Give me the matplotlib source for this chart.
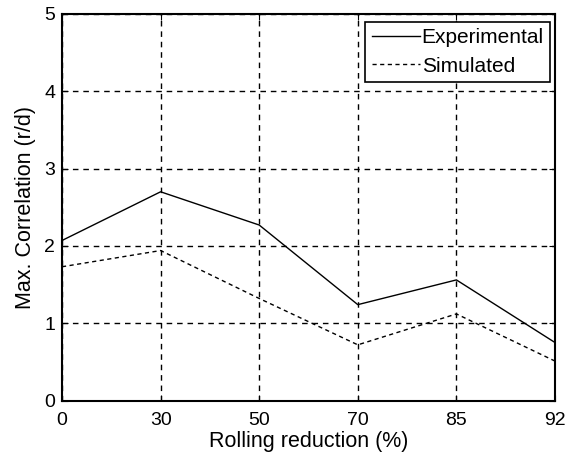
import matplotlib
matplotlib.use("Agg")
import matplotlib.pyplot as plt

reduction_labels = ["0", "30", "50", "70", "85", "92"]
experimental = [2.07, 2.70, 2.27, 1.24, 1.56, 0.75]
simulated = [1.73, 1.94, 1.32, 0.72, 1.12, 0.51]
y_ticks = [0, 1, 2, 3, 4, 5]

plt.rcParams['font.family'] = ['Liberation Sans', 'DejaVu Sans']

fig = plt.figure(figsize=(5.68, 4.57), dpi=100)
ax = fig.add_axes([62 / 568, 1 - 400.5 / 457, (555 - 62) / 568, (400.5 - 14) / 457])

x = list(range(len(reduction_labels)))
ax.plot(x, experimental, color='black', linestyle='-', linewidth=1.0, label='Experimental')
ax.plot(x, simulated, color='black', linestyle=(0, (3, 2.5)), linewidth=1.0, label='Simulated')

ax.set_xlim(0, len(x) - 1)
ax.set_ylim(0, 5)
ax.set_xticks(x)
ax.set_xticklabels(reduction_labels)
ax.set_yticks(y_ticks)

ax.grid(True, color='black', linestyle=(0, (4, 3.5)), linewidth=1.0)
ax.tick_params(direction='in', top=True, right=True, length=4, labelsize=14)
ax.tick_params(axis='x', pad=8)
ax.tick_params(axis='y', pad=5)
for s in ax.spines.values():
    s.set_linewidth(1.5)

ax.set_xlabel('Rolling reduction (%)', fontsize=15.5, labelpad=2)
ax.set_ylabel('Max. Correlation (r/d)', fontsize=15.5, labelpad=6)

leg = ax.legend(loc='upper right', bbox_to_anchor=(0.99, 0.979), borderaxespad=0,
                fontsize=15, frameon=True, fancybox=False,
                edgecolor='black', framealpha=1, borderpad=0.3, handlelength=2.3,
                handletextpad=0.1, labelspacing=0.45)
leg.get_frame().set_linewidth(1.2)

fig.savefig('out.png', dpi=100)
